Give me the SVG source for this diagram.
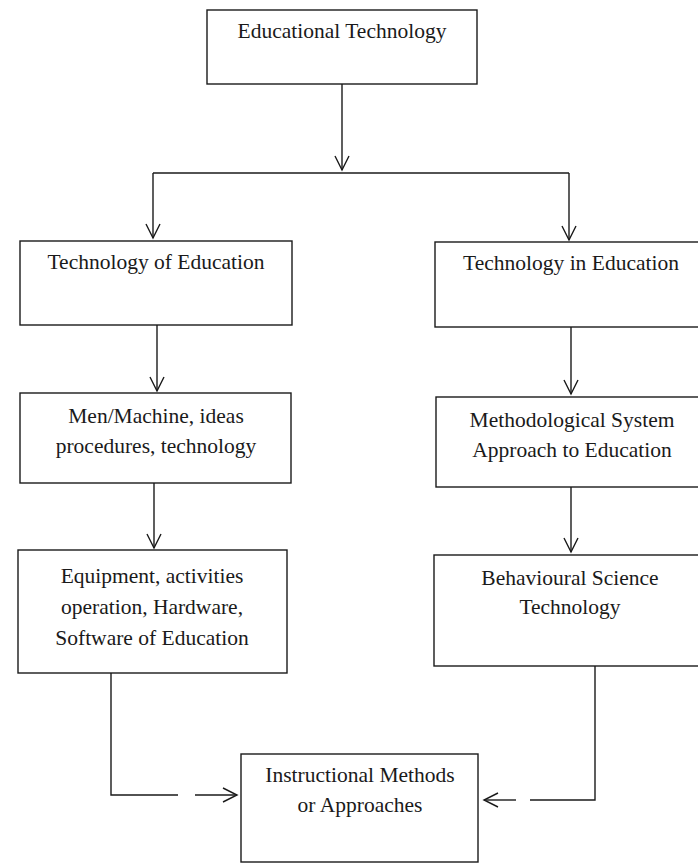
<svg xmlns="http://www.w3.org/2000/svg" width="698" height="864" viewBox="0 0 698 864">
  <style>
    .box { fill: #ffffff; stroke: #1a1a1a; stroke-width: 1.4; }
    .label { font-family: "Liberation Serif", "Times New Roman", serif; font-size: 21.5px; fill: #1a1a1a; text-anchor: middle; }
    .wire { fill: none; stroke: #1a1a1a; stroke-width: 1.4; }
  </style>
  <defs>
    <marker id="arrow" markerUnits="userSpaceOnUse" markerWidth="20" markerHeight="20" viewBox="-16 -10 18 20" refX="0" refY="0" orient="auto">
      <path d="M-14,-7 L0,0 L-14,7" fill="none" stroke="#1a1a1a" stroke-width="1.4"/>
    </marker>
  </defs>

  <rect width="698" height="864" fill="#ffffff"/>

  <!-- connectors -->
  <g id="connectors" class="wire">
    <path d="M342,84 V170" marker-end="url(#arrow)"/>
    <path d="M153,173 H569"/>
    <path d="M153,173 V238" marker-end="url(#arrow)"/>
    <path d="M569,173 V240" marker-end="url(#arrow)"/>
    <path d="M157,325 V391" marker-end="url(#arrow)"/>
    <path d="M154,483 V548" marker-end="url(#arrow)"/>
    <path d="M571,327 V394" marker-end="url(#arrow)"/>
    <path d="M571,487 V552" marker-end="url(#arrow)"/>
    <path d="M111,673 V795 H178"/>
    <path d="M195,795 H237" marker-end="url(#arrow)"/>
    <path d="M595,666 V800 H530"/>
    <path d="M516,800 H484" marker-end="url(#arrow)"/>
  </g>

  <!-- nodes -->
  <g id="educational-technology">
    <rect class="box" x="207" y="10" width="270" height="74"/>
    <text class="label" x="342" y="38">Educational Technology</text>
  </g>

  <g id="technology-of-education">
    <rect class="box" x="20" y="241" width="272" height="84"/>
    <text class="label" x="156" y="269">Technology of Education</text>
  </g>

  <g id="technology-in-education">
    <rect class="box" x="435" y="242" width="290" height="85"/>
    <text class="label" x="571" y="270">Technology in Education</text>
  </g>

  <g id="men-machine">
    <rect class="box" x="20" y="393" width="271" height="90"/>
    <text class="label" x="156" y="423">Men/Machine, ideas</text>
    <text class="label" x="156" y="453">procedures, technology</text>
  </g>

  <g id="methodological-system">
    <rect class="box" x="436" y="397" width="290" height="90"/>
    <text class="label" x="572" y="427">Methodological System</text>
    <text class="label" x="572" y="457">Approach to Education</text>
  </g>

  <g id="equipment">
    <rect class="box" x="18" y="550" width="269" height="123"/>
    <text class="label" x="152" y="583">Equipment, activities</text>
    <text class="label" x="152" y="614">operation, Hardware,</text>
    <text class="label" x="152" y="645">Software of Education</text>
  </g>

  <g id="behavioural-science">
    <rect class="box" x="434" y="555" width="290" height="111"/>
    <text class="label" x="570" y="585">Behavioural Science</text>
    <text class="label" x="570" y="614">Technology</text>
  </g>

  <g id="instructional-methods">
    <rect class="box" x="241" y="754" width="237" height="108"/>
    <text class="label" x="360" y="782">Instructional Methods</text>
    <text class="label" x="360" y="812">or Approaches</text>
  </g>
</svg>
